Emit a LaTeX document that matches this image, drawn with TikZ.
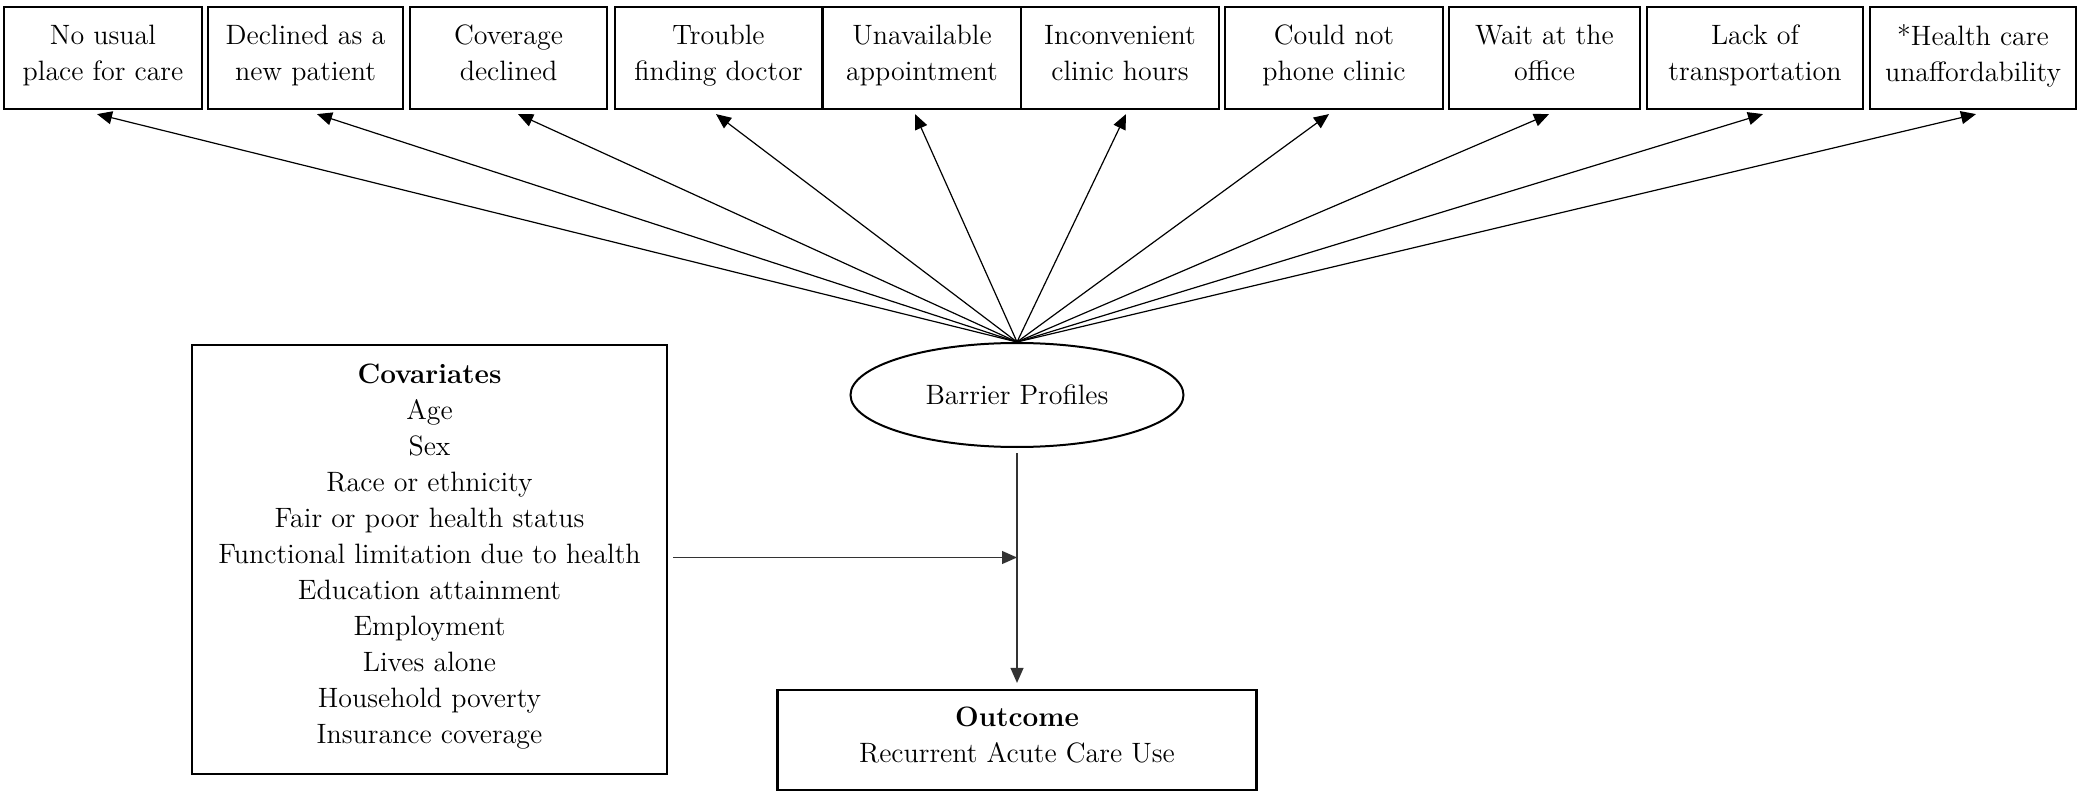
\documentclass[tikz,border=0pt]{standalone}
\usepackage{fontspec}
\usetikzlibrary{shapes.geometric,arrows.meta,calc}
\begin{document}
\begin{tikzpicture}[x=0.5pt,y=-0.5pt,
  txt/.style={font=\fontsize{14}{18}\selectfont, align=center},
  box/.style={txt, draw, line width=1.1pt, inner sep=0pt, minimum height=51pt,
    execute at begin node=\strut, execute at end node=\strut},
  arr/.style={-{Triangle[length=7.5pt,width=6.5pt]}, line width=0.6pt},
  garr/.style={arr, draw=black!80},
]
\useasboundingbox[fill=white] (0,0) rectangle (2079,791);
\node[box, minimum width=99pt]   (b1)  at (103,58)    {No usual\\place for care};
\node[box, minimum width=97.5pt] (b2)  at (305.5,58)  {Declined as a\\new patient};
\node[box, minimum width=98.5pt] (b3)  at (508.5,58)  {Coverage\\declined};
\node[box, minimum width=103.5pt](b4)  at (718.5,58)  {Trouble\\finding doctor};
\node[box, minimum width=99pt]   (b5)  at (922,58)    {Unavailable\\appointment};
\node[box, minimum width=99pt]   (b6)  at (1120,58)   {Inconvenient\\clinic hours};
\node[box, minimum width=109pt]  (b7)  at (1334,58)   {Could not\\phone clinic};
\node[box, minimum width=95.5pt] (b8)  at (1544.5,58) {Wait at the\\office};
\node[box, minimum width=108pt]  (b9)  at (1755,58)   {Lack of\\transportation};
\node[box, minimum width=103pt]  (b10) at (1973,58)   {*Health care\\unaffordability};

\node[txt, draw, ellipse, line width=1pt, inner sep=0pt, minimum width=166.5pt, minimum height=52pt] (bp) at (1017,395) {Barrier Profiles};

\node[box, minimum width=237.5pt, minimum height=214.5pt] (cov) at (429.5,559.5)
  {\textbf{Covariates}\\Age\\Sex\\Race or ethnicity\\Fair or poor health status\\Functional limitation due to health\\Education attainment\\Employment\\Lives alone\\Household poverty\\Insurance coverage};

\node[box, minimum width=239.5pt, minimum height=50pt] (out) at (1017,740)
  {\textbf{Outcome}\\Recurrent Acute Care Use};

\foreach \b/\dx in {b1/-3, b2/5.75, b3/4.75, b4/-1.25, b5/-3.5, b6/3, b7/-2.5, b8/2.25, b9/4, b10/1.5}
  \draw[arr] (bp.north) -- ([xshift=\dx pt, yshift=-2pt]\b.south);

\draw[garr] ([xshift=2.5pt, yshift=1pt]cov.east) -- ([yshift=1pt]cov.east -| out.north);
\draw[garr] ([yshift=-2.5pt]bp.south) -- ([yshift=3pt]out.north);
\end{tikzpicture}
\end{document}
